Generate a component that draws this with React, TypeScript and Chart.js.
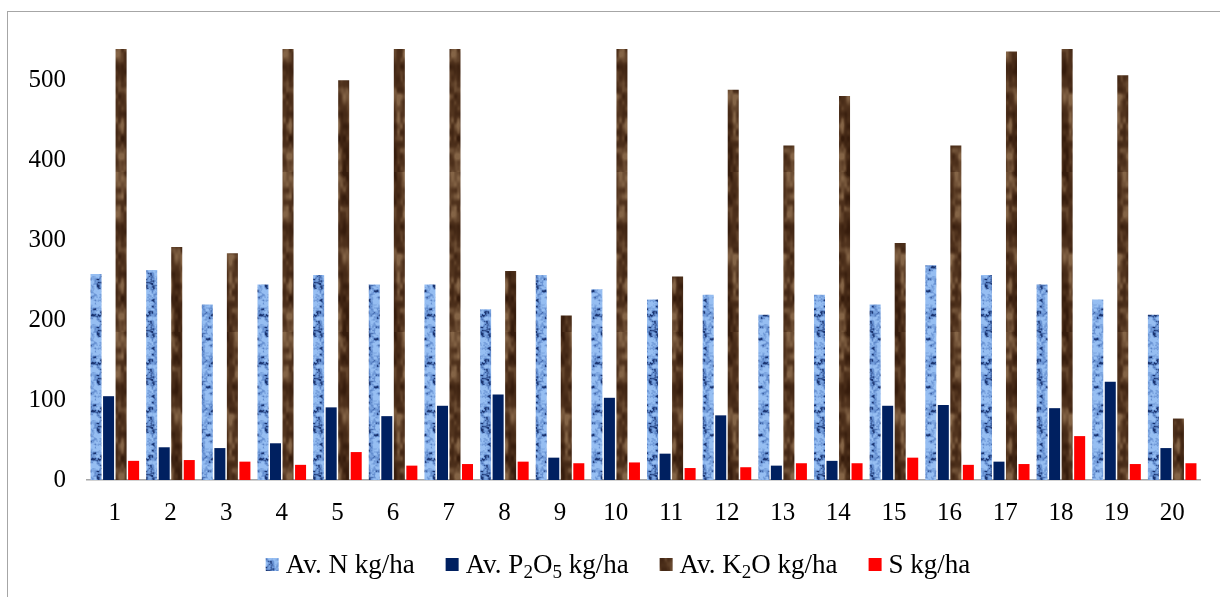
import { useEffect, useRef } from "react";
import { Chart, registerables } from "chart.js";

Chart.register(...registerables);

// Soil sample sites
const sites = ["1", "2", "3", "4", "5", "6", "7", "8", "9", "10", "11", "12", "13", "14", "15", "16", "17", "18", "19", "20"];

// Available nutrients (kg/ha) per site
const availN = [258, 263, 220, 245, 257, 245, 245, 214, 257, 239, 226, 232, 207, 232, 220, 269, 257, 245, 226, 207];
const availP2O5 = [105, 41, 40, 46, 91, 80, 93, 107, 28, 103, 33, 81, 18, 24, 93, 94, 23, 90, 123, 40];
const availK2O = [540, 292, 284, 540, 501, 540, 540, 262, 206, 540, 255, 489, 419, 481, 297, 419, 537, 540, 507, 77];
const sulphur = [24, 25, 23, 19, 35, 18, 20, 23, 21, 22, 15, 16, 21, 21, 28, 19, 20, 55, 20, 21];

const seriesLabels = ["Av. N kg/ha", "Av. P₂O₅ kg/ha", "Av. K₂O kg/ha", "S kg/ha"];

const yMax = 540;
const yStep = 100;

const SERIF = "'Liberation Serif', 'Times New Roman', serif";

type Rgb = [number, number, number];

function mix(a: Rgb, b: Rgb, t: number): Rgb {
  const k = Math.max(0, Math.min(1, t));
  return [a[0] + (b[0] - a[0]) * k, a[1] + (b[1] - a[1]) * k, a[2] + (b[2] - a[2]) * k];
}

// Deterministic lattice hash for texture generation
function hash(ix: number, iy: number) {
  const s = Math.sin(ix * 127.1 + iy * 311.7) * 43758.5453;
  return s - Math.floor(s);
}

function smooth(t: number) {
  return t * t * (3 - 2 * t);
}

// Tileable value noise with a period of pw x ph cells
function valueNoise(x: number, y: number, pw: number, ph: number) {
  const ix = Math.floor(x);
  const iy = Math.floor(y);
  const fx = smooth(x - ix);
  const fy = smooth(y - iy);
  const w = (i: number) => ((i % pw) + pw) % pw;
  const h = (j: number) => ((j % ph) + ph) % ph;
  const a = hash(w(ix), h(iy));
  const b = hash(w(ix + 1), h(iy));
  const c = hash(w(ix), h(iy + 1));
  const d = hash(w(ix + 1), h(iy + 1));
  return a + (b - a) * fx + (c - a) * fy + (a - b - c + d) * fx * fy;
}

function makeTexture(w: number, h: number, shade: (x: number, y: number) => Rgb, fallback: string): CanvasPattern | string {
  const c = document.createElement("canvas");
  c.width = w;
  c.height = h;
  const g = c.getContext("2d");
  if (!g) return fallback;
  const img = g.createImageData(w, h);
  for (let y = 0; y < h; y++) {
    for (let x = 0; x < w; x++) {
      const [r, gg, b] = shade(x, y);
      const i = (y * w + x) * 4;
      img.data[i] = r;
      img.data[i + 1] = gg;
      img.data[i + 2] = b;
      img.data[i + 3] = 255;
    }
  }
  g.putImageData(img, 0, 0);
  return g.createPattern(c, "repeat") || fallback;
}

// Mottled blue "tissue" fill for nitrogen
function nitrogenFill() {
  const light: Rgb = [150, 190, 242];
  const mid: Rgb = [98, 140, 206];
  const dark: Rgb = [26, 52, 112];
  return makeTexture(
    24,
    48,
    (x, y) => {
      const n = 0.65 * valueNoise(x / 3, y / 3, 8, 16) + 0.35 * valueNoise(x / 1.5, y / 1.5, 16, 32);
      if (n < 0.36) return mix(dark, mid, (n - 0.2) / 0.16);
      return mix(mid, light, (n - 0.36) / 0.3);
    },
    "#8db4e2"
  );
}

// Dark wood fill for potassium
function potassiumFill() {
  const dark: Rgb = [54, 28, 12];
  const mid: Rgb = [82, 52, 30];
  const light: Rgb = [132, 100, 70];
  return makeTexture(
    24,
    160,
    (x, y) => {
      const n = 0.6 * valueNoise(x / 6, y / 14, 4, 12) + 0.4 * valueNoise(x / 3, y / 6, 8, 28);
      if (n < 0.5) return mix(dark, mid, (n - 0.2) / 0.3);
      return mix(mid, light, (n - 0.5) / 0.3);
    },
    "#4a2c17"
  );
}

type Seg = { text: string; sub: boolean };

function splitSubscripts(label: string): Seg[] {
  const segs: Seg[] = [];
  for (const ch of label) {
    const code = ch.charCodeAt(0);
    const sub = code >= 0x2080 && code <= 0x2089;
    const text = sub ? String(code - 0x2080) : ch;
    const last = segs[segs.length - 1];
    if (last && last.sub === sub) last.text += text;
    else segs.push({ text, sub });
  }
  return segs;
}

const LEGEND_FONT = 27;
const SUB_FONT = 19;
const BOX = 13;
const BOX_GAP = 7;
const ITEM_GAP = 31;

const bottomLegend = {
  id: "bottomLegend",
  afterDraw(chart: any) {
    const ctx: CanvasRenderingContext2D = chart.ctx;
    const baseline = chart.height - 29;
    const items = chart.data.datasets.map((ds: any) => {
      const segs = splitSubscripts(ds.label);
      let w = 0;
      for (const s of segs) {
        ctx.font = `${s.sub ? SUB_FONT : LEGEND_FONT}px ${SERIF}`;
        w += ctx.measureText(s.text).width;
      }
      return { segs, textW: w, fill: ds.backgroundColor };
    });
    const total =
      items.reduce((acc: number, it: any) => acc + BOX + BOX_GAP + it.textW, 0) + ITEM_GAP * (items.length - 1);
    let x = (chart.width - total) / 2;
    ctx.save();
    ctx.textBaseline = "alphabetic";
    ctx.textAlign = "left";
    for (const it of items) {
      ctx.fillStyle = it.fill;
      ctx.fillRect(x, baseline - 15, BOX, BOX);
      x += BOX + BOX_GAP;
      ctx.fillStyle = "#000";
      for (const s of it.segs) {
        ctx.font = `${s.sub ? SUB_FONT : LEGEND_FONT}px ${SERIF}`;
        ctx.fillText(s.text, x, baseline + (s.sub ? 5 : 0));
        x += ctx.measureText(s.text).width;
      }
      x += ITEM_GAP;
    }
    ctx.restore();
  },
};

export default function App() {
  const ref = useRef<HTMLCanvasElement | null>(null);

  useEffect(() => {
    const canvas = ref.current;
    if (!canvas) return;
    const chart = new Chart(canvas, {
      type: "bar",
      data: {
        labels: sites,
        datasets: [
          { label: seriesLabels[0], data: availN, backgroundColor: nitrogenFill() as any },
          { label: seriesLabels[1], data: availP2O5, backgroundColor: "#002060" },
          { label: seriesLabels[2], data: availK2O, backgroundColor: potassiumFill() as any },
          { label: seriesLabels[3], data: sulphur, backgroundColor: "#ff0000" },
        ],
      },
      options: {
        responsive: false,
        animation: false,
        layout: { padding: { top: 37, right: 28, left: 0, bottom: 72 } },
        datasets: { bar: { categoryPercentage: 0.9, barPercentage: 0.88 } },
        plugins: { legend: { display: false }, tooltip: { enabled: false } },
        scales: {
          x: {
            grid: { display: false },
            border: { display: true, color: "#a6a6a6", width: 1.5 },
            ticks: { color: "#000", font: { family: SERIF, size: 25 }, padding: 10, maxRotation: 0 },
            afterFit: (s: any) => {
              s.height = 50;
            },
          },
          y: {
            min: 0,
            max: yMax,
            grid: { display: false },
            border: { display: false },
            ticks: { stepSize: yStep, color: "#000", font: { family: SERIF, size: 25 }, padding: 13 },
            afterBuildTicks: (s: any) => {
              s.ticks = s.ticks.filter((t: any) => t.value % yStep === 0);
            },
            afterFit: (s: any) => {
              s.width = 79;
            },
          },
        },
      },
      plugins: [bottomLegend],
    });
    return () => chart.destroy();
  }, []);

  return (
    <div
      style={{
        position: "absolute",
        left: 7,
        top: 11,
        width: 1230,
        height: 600,
        border: "1px solid #a6a6a6",
        background: "#fff",
      }}
    >
      <canvas ref={ref} width={1220} height={590} style={{ display: "block", width: 1220, height: 590 }} />
    </div>
  );
}
